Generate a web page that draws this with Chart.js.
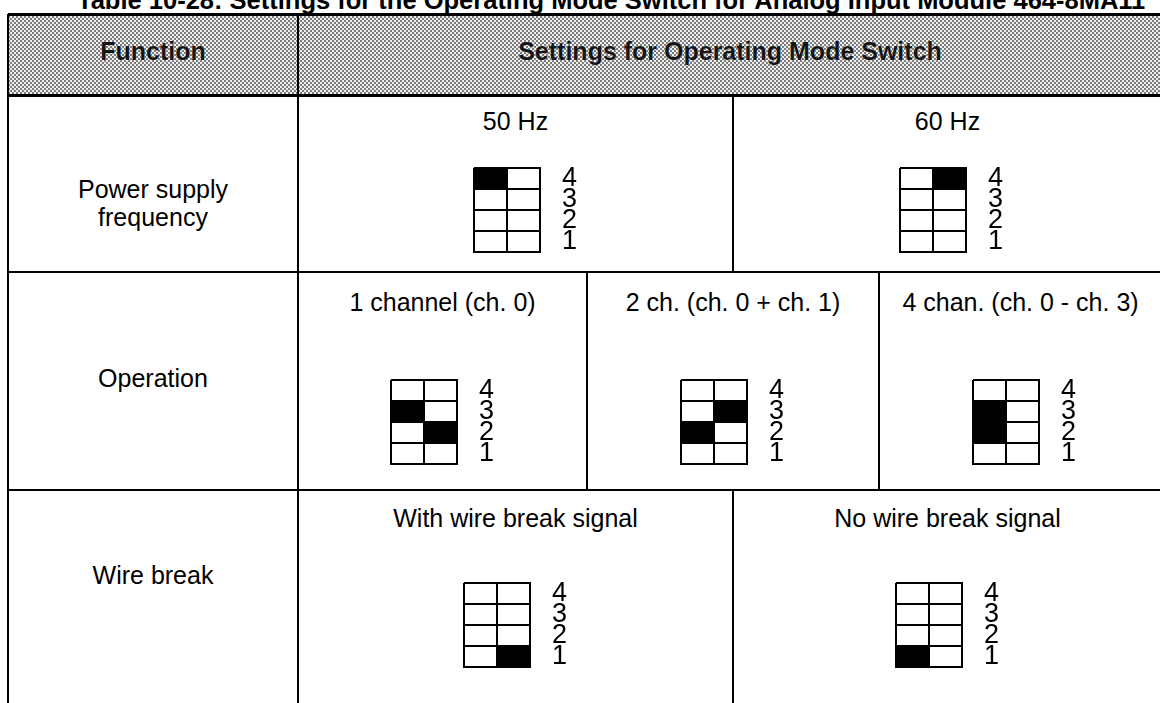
<!DOCTYPE html>
<html>
<head>
<meta charset="utf-8">
<script src="https://cdn.jsdelivr.net/npm/chart.js@4.4.1/dist/chart.umd.min.js"></script>
<style>
html, body { margin: 0; padding: 0; background: #fff; }
#page { position: relative; width: 1160px; height: 703px; overflow: hidden;
        font-family: 'Liberation Sans', Arial, Helvetica, sans-serif; color: #000; }
.ln { position: absolute; background: #000; }
.txt { position: absolute; font-size: 25px; line-height: 1; white-space: nowrap;
       transform: translate(-50%, -50%); }
.hdr { font-weight: bold; color: #151515; text-shadow: 0 0 1px #fff; }
.title { position: absolute; font-weight: bold; font-size: 25.5px; line-height: 1; white-space: nowrap; }
.band { position: absolute; background-image: repeating-conic-gradient(#7c7c7c 0 25%, #efefef 0 50%);
        background-size: 4px 4px; }
canvas { position: absolute; }
</style>
</head>
<body>
<div id="page"></div>
<script>
// table texts
const tableTitle = 'Table 10-28: Settings for the Operating Mode Switch for Analog Input Module 464-8MA11';
const headerTitles = ['Function', 'Settings for Operating Mode Switch'];
const functionNames = [['Power supply', 'frequency'], ['Operation'], ['Wire break']];
const switchPositions = ['4', '3', '2', '1'];

// which side of each switch position is dark (positions 4,3,2,1)
const freqSettings = ['50 Hz', '60 Hz'];
const freqStates = [['L', '', '', ''], ['R', '', '', '']];
const operationSettings = ['1 channel (ch. 0)', '2 ch. (ch. 0 + ch. 1)', '4 chan. (ch. 0 - ch. 3)'];
const operationStates = [['', 'L', 'R', ''], ['', 'R', 'L', ''], ['', 'L', 'L', '']];
const wireSettings = ['With wire break signal', 'No wire break signal'];
const wireStates = [['', '', '', 'R'], ['', '', '', 'L']];

// layout
const page = document.getElementById('page');
const tableLeft = 8, tableRight = 1162, funcRight = 298, tableTop = 14, headBottom = 95;
const rows = [
    { top: 95, bottom: 272, splits: [733], labelY: 121, gridTop: 168, shift: [-42, -48], funcY: [189, 217],
      labels: freqSettings, states: freqStates },
    { top: 272, bottom: 490, splits: [587, 879], labelY: 302, gridTop: 380, shift: [-52, -52, -48], funcY: [378],
      labels: operationSettings, states: operationStates },
    { top: 490, bottom: 760, splits: [733], labelY: 518, gridTop: 583, shift: [-52, -52], funcY: [575],
      labels: wireSettings, states: wireStates }
];

function line(x1, y1, x2, y2, w) {
    const d = document.createElement('div');
    d.className = 'ln';
    if (y1 === y2) d.style.cssText = `left:${x1}px;top:${y1 - w / 2}px;width:${x2 - x1}px;height:${w}px`;
    else d.style.cssText = `left:${x1 - w / 2}px;top:${y1}px;width:${w}px;height:${y2 - y1}px`;
    page.appendChild(d);
}

function text(str, x, y, cls) {
    const d = document.createElement('div');
    d.className = 'txt' + (cls ? ' ' + cls : '');
    d.style.left = x + 'px';
    d.style.top = y + 'px';
    d.textContent = str;
    page.appendChild(d);
    return d;
}

// title (cut off by the top of the page, as in the scan)
const t = document.createElement('div');
t.className = 'title';
t.textContent = tableTitle;
t.style.left = '77px';
t.style.top = '-12px';
page.appendChild(t);

// header band
const band = document.createElement('div');
band.className = 'band';
band.style.cssText = `left:${tableLeft}px;top:${tableTop}px;width:${tableRight - tableLeft}px;height:${headBottom - tableTop}px`;
page.appendChild(band);
text(headerTitles[0], (tableLeft + funcRight) / 2, 51, 'hdr');
text(headerTitles[1], (funcRight + tableRight) / 2, 51, 'hdr');

// one switch drawn as a tiny horizontal floating-bar chart
function drawSwitch(left, top, states) {
    const c = document.createElement('canvas');
    c.width = 108; c.height = 86;
    c.style.left = (left - 1) + 'px';
    c.style.top = (top - 1) + 'px';
    c.style.width = '108px';
    c.style.height = '86px';
    page.appendChild(c);
    new Chart(c, {
        type: 'bar',
        data: {
            labels: switchPositions,
            datasets: [{
                data: states.map(s => s === 'L' ? [0, 1] : s === 'R' ? [1, 2] : null),
                backgroundColor: '#000',
                borderWidth: 0,
                barPercentage: 1,
                categoryPercentage: 1
            }]
        },
        options: {
            indexAxis: 'y',
            responsive: false,
            animation: false,
            devicePixelRatio: 1,
            events: [],
            layout: { padding: { left: 1, top: 1, bottom: 1, right: 0 } },
            plugins: { legend: { display: false }, tooltip: { enabled: false } },
            scales: {
                x: {
                    type: 'linear', min: 0, max: 2,
                    ticks: { display: false, stepSize: 1 },
                    grid: { color: '#000', lineWidth: 2, drawTicks: false },
                    border: { color: '#000', width: 2 },
                    afterFit(a) { a.height = 0; a.paddingLeft = 0; a.paddingRight = 0; }
                },
                y: {
                    position: 'right', offset: true,
                    grid: { offset: true, color: '#000', lineWidth: 2, drawTicks: false },
                    border: { color: '#000', width: 2 },
                    ticks: { autoSkip: false, color: '#000', padding: 22,
                             font: { family: "'Liberation Sans Narrow', 'Liberation Sans', Arial", size: 27 } },
                    afterFit(a) { a.width = 41; a.paddingTop = 0; a.paddingBottom = 0; }
                }
            }
        }
    });
}

// rows
rows.forEach((r, i) => {
    functionNames[i].forEach((s, k) => text(s, (tableLeft + funcRight) / 2, r.funcY[k]));
    const edges = [funcRight, ...r.splits, tableRight];
    r.labels.forEach((lab, k) => {
        const cx = (edges[k] + edges[k + 1]) / 2;
        text(lab, cx, r.labelY);
        drawSwitch(cx + r.shift[k], r.gridTop, r.states[k]);
    });
    r.splits.forEach(x => line(x, r.top, x, r.bottom, 2));
    if (i > 0) line(tableLeft, r.top, tableRight, r.top, 2);
});

// frame
line(tableLeft, tableTop, tableRight, tableTop, 3);
line(tableLeft, headBottom, tableRight, headBottom, 3);
line(tableLeft, tableTop, tableLeft, 760, 2);
line(funcRight, tableTop, funcRight, 760, 2);
</script>
</body>
</html>
